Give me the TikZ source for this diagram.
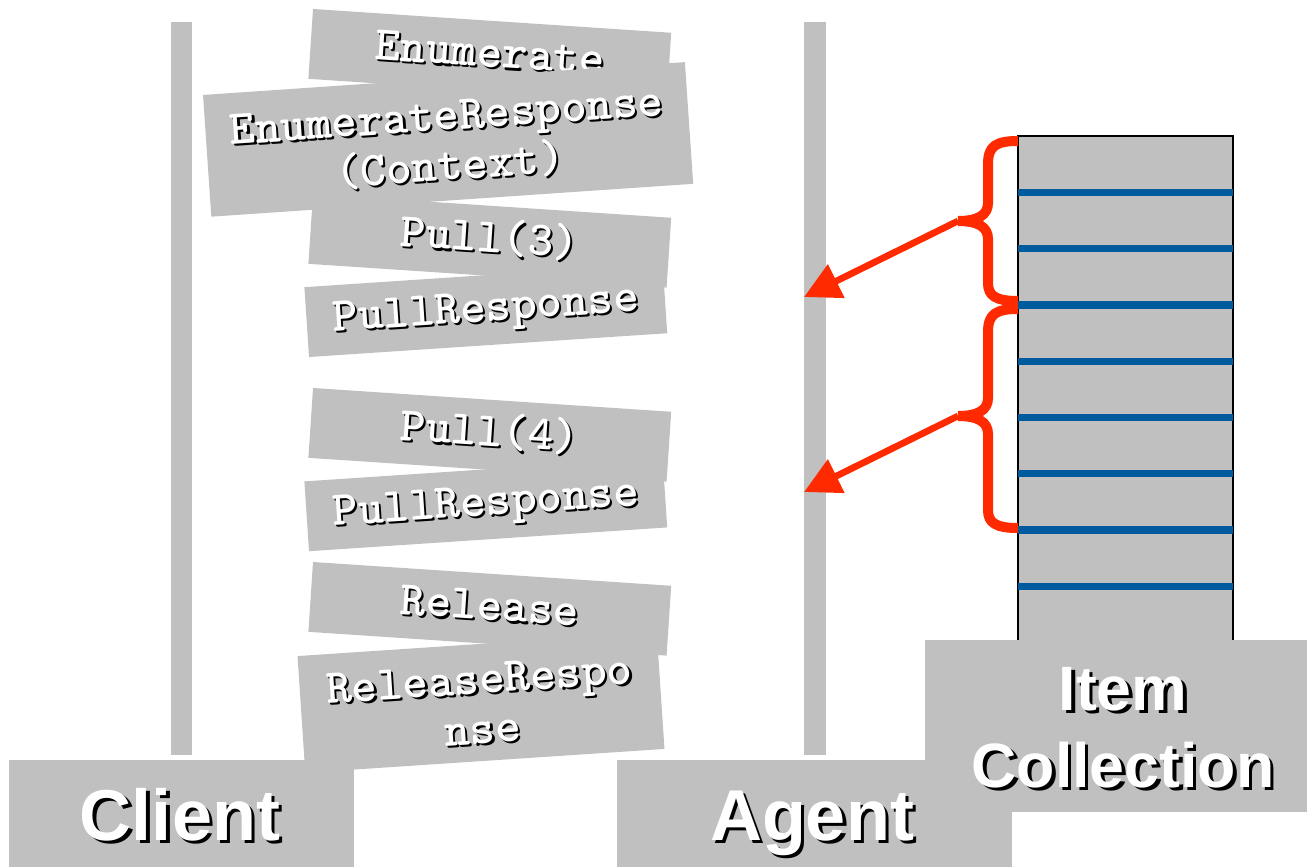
\documentclass[tikz,border=0pt]{standalone}
\usepackage{fontspec}
\usetikzlibrary{arrows.meta}
\newfontfamily\msgfont{lmmonolt10-bold.otf}
\newfontfamily\labelfont{Liberation Sans}
\definecolor{boxgray}{RGB}{191,192,191}
\definecolor{bracered}{RGB}{255,42,0}
\definecolor{rowblue}{RGB}{0,90,158}
% white text with a black drop shadow
\newcommand\shadowed[2]{\leavevmode\rlap{\kern#1\raisebox{-#1}{\color{black}#2}}{\color{white}#2}}
\newcommand\msgtext[1]{\shadowed{1.6pt}{#1}}
\newcommand\bigtext[1]{\shadowed{2.6pt}{#1}}

\begin{document}
\begin{tikzpicture}[x=0.75pt,y=-0.75pt,
  msgbox/.style={fill=boxgray, inner sep=0pt,
    minimum width=269.25pt, minimum height=52.5pt,
    font=\msgfont\fontsize{36.5}{38}\selectfont,
    text height=21pt, text depth=4.2pt},
  tallbox/.style={fill=boxgray, inner sep=0pt, align=center,
    font=\msgfont\fontsize{36.5}{37.5}\selectfont},
  rolebox/.style={fill=boxgray},
  rolelabel/.style={anchor=base, inner sep=0pt,
    font=\labelfont\bfseries\fontsize{54}{60}\selectfont},
  colllabel/.style={anchor=base, inner sep=0pt,
    font=\labelfont\bfseries\fontsize{47}{56}\selectfont},
  lifeline/.style={fill=boxgray},
  row/.style={draw=rowblue, line width=5.5pt},
  brace/.style={draw=bracered, line width=7.5pt, line cap=butt},
  pointer/.style={draw=bracered, line width=5pt,
    -{Triangle[length=27pt,width=27pt]}}
]
\useasboundingbox (0,0) rectangle (1307,867);

% lifelines
\fill[lifeline] (171,22) rectangle (192,755);
\fill[lifeline] (804,22) rectangle (826,755);

% item collection stack
\draw[fill=boxgray, draw=black, line width=1.5pt] (1018,136) rectangle (1233,700);
\foreach \k in {1,...,8}
  \draw[row] (1018,{136+56.3*\k}) -- (1233,{136+56.3*\k});

% messages
\node[msgbox, rotate=-3.8] (enum) at (489.8,55.8) {\msgtext{Enumerate}};
\node[tallbox, rotate=3.9, minimum width=362.25pt, minimum height=91.5pt]
  (enumresp) at (448.1,139.4)
  {\rule{0pt}{28pt}\msgtext{EnumerateResponse}\\\msgtext{(Context)}};
\node[msgbox, rotate=3.8] (pullresp1) at (485.8,310.2) {\msgtext{PullResponse}};
\node[msgbox, rotate=-3.8] (pull3) at (489.8,240.8) {\msgtext{Pull(3)}};
\node[msgbox, rotate=3.8] (pullresp2) at (485.8,504.4) {\msgtext{PullResponse}};
\node[msgbox, rotate=-3.8] (pull4) at (489.8,434.8) {\msgtext{Pull(4)}};
\node[tallbox, rotate=3.8, minimum width=270pt, minimum height=87.75pt]
  (releaseresp) at (481,702.5)
  {\rule{0pt}{26pt}\msgtext{ReleaseRespo}\\\msgtext{nse}};
\node[msgbox, rotate=-3.8] (release) at (489.8,608.8) {\msgtext{Release}};

% role boxes
\fill[rolebox] (9,760) rectangle (354,867);
\fill[rolebox] (617,760) rectangle (1012,867);
\fill[rolebox] (925,640) rectangle (1307,812);
\node[rolelabel] (client) at (180,840) {\bigtext{Client}};
\node[rolelabel] (agent) at (812,840) {\bigtext{Agent}};
\node[colllabel] (item) at (1123,710) {\bigtext{Item}};
\node[colllabel] (collection) at (1123,787) {\bigtext{Collection}};

% braces grouping the items of each pull
\coordinate (tip1) at (958,221);
\coordinate (tip2) at (958,416);
\coordinate (hit1) at (804,297);
\coordinate (hit2) at (804,492);
\draw[brace] (1018,141) .. controls (996,141) and (988,146) .. (988,164)
  -- (988,203) .. controls (988,215) and (978,221) .. (tip1);
\draw[brace] (tip1) .. controls (978,221) and (988,227) .. (988,239)
  -- (988,283) .. controls (988,296) and (996,301) .. (1018,301);
\draw[brace] (1018,309) .. controls (996,309) and (988,314) .. (988,332)
  -- (988,398) .. controls (988,410) and (978,416) .. (tip2);
\draw[brace] (tip2) .. controls (978,416) and (988,422) .. (988,434)
  -- (988,510) .. controls (988,523) and (996,528) .. (1018,528);

% arrows to the agent
\draw[pointer] (tip1) -- (hit1);
\draw[pointer] (tip2) -- (hit2);
\end{tikzpicture}
\end{document}
